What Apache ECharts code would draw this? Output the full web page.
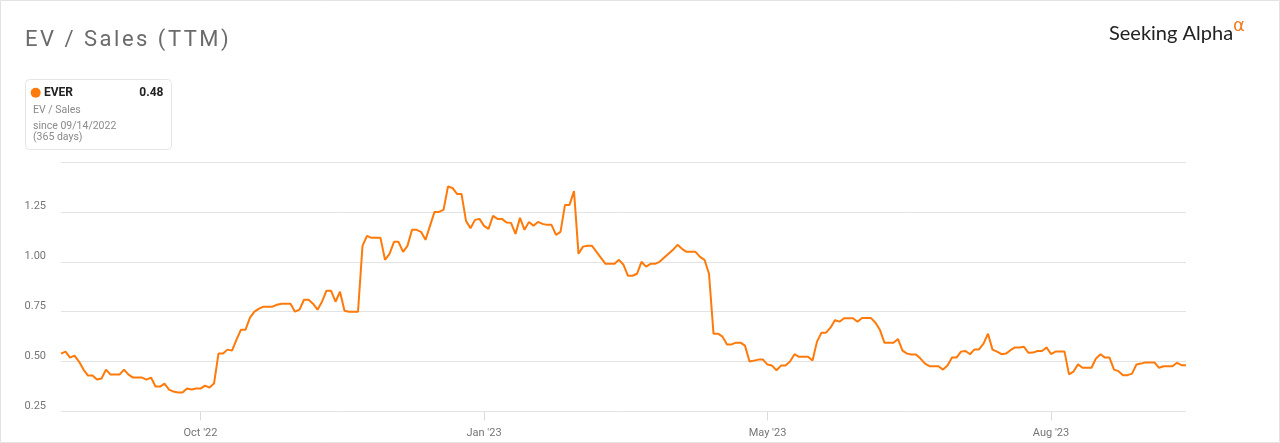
<!DOCTYPE html>
<html>
<head>
<meta charset="UTF-8">
<title>EV / Sales (TTM)</title>
<script src="https://cdn.jsdelivr.net/npm/echarts@6/dist/echarts.min.js"></script>
<style>
    html, body { margin: 0; padding: 0; background: #fff; }
    #wrap { position: relative; width: 1280px; height: 443px; }
    #chart { width: 1280px; height: 443px; }
    #title {
        position: absolute; left: 25px; top: 28px;
        font: 400 22px/22px Roboto, sans-serif;
        letter-spacing: 2.5px; color: #6b6b6b;
    }
</style>
</head>
<body>
<div id="wrap">
    <div id="chart"></div>
    <div id="title">EV / Sales (TTM)</div>
</div>
<script>
// EV / Sales for EVER, one value per trading day since 09/14/2022
var evSales = [
    0.54, 0.55, 0.52, 0.53, 0.50, 0.46, 0.43, 0.43, 0.41, 0.415,
    0.46, 0.435, 0.435, 0.435, 0.46, 0.435, 0.42, 0.42, 0.42, 0.41,
    0.42, 0.375, 0.375, 0.39, 0.36, 0.35, 0.345, 0.345, 0.365, 0.36,
    0.365, 0.365, 0.38, 0.37, 0.39, 0.54, 0.54, 0.56, 0.555, 0.61,
    0.66, 0.66, 0.72, 0.75, 0.765, 0.775, 0.775, 0.775, 0.785, 0.79,
    0.79, 0.79, 0.75, 0.76, 0.81, 0.81, 0.79, 0.76, 0.80, 0.855,
    0.855, 0.80, 0.85, 0.755, 0.75, 0.75, 0.75, 1.08, 1.13, 1.12,
    1.12, 1.12, 1.01, 1.04, 1.10, 1.10, 1.05, 1.08, 1.16, 1.16,
    1.15, 1.11, 1.18, 1.25, 1.25, 1.26, 1.377, 1.37, 1.34, 1.34,
    1.205, 1.168, 1.21, 1.215, 1.18, 1.165, 1.23, 1.215, 1.215, 1.197,
    1.195, 1.14, 1.22, 1.16, 1.20, 1.18, 1.20, 1.19, 1.185, 1.185,
    1.135, 1.15, 1.285, 1.285, 1.354, 1.04, 1.076, 1.08, 1.08, 1.05,
    1.02, 0.99, 0.99, 0.99, 1.01, 0.985, 0.93, 0.93, 0.94, 1.00,
    0.976, 0.99, 0.99, 1.00, 1.02, 1.04, 1.06, 1.085, 1.065, 1.05,
    1.05, 1.05, 1.025, 1.01, 0.94, 0.64, 0.64, 0.625, 0.586, 0.586,
    0.595, 0.595, 0.58, 0.50, 0.505, 0.51, 0.51, 0.485, 0.48, 0.457,
    0.48, 0.48, 0.50, 0.537, 0.524, 0.524, 0.524, 0.505, 0.60, 0.645,
    0.645, 0.67, 0.708, 0.70, 0.717, 0.717, 0.717, 0.70, 0.718, 0.718,
    0.718, 0.695, 0.658, 0.594, 0.594, 0.594, 0.613, 0.555, 0.54, 0.536,
    0.536, 0.515, 0.49, 0.477, 0.477, 0.477, 0.46, 0.48, 0.52, 0.52,
    0.55, 0.553, 0.537, 0.561, 0.561, 0.59, 0.64, 0.56, 0.55, 0.537,
    0.54, 0.557, 0.571, 0.571, 0.574, 0.544, 0.545, 0.553, 0.553, 0.571,
    0.538, 0.55, 0.55, 0.55, 0.436, 0.45, 0.486, 0.469, 0.469, 0.469,
    0.516, 0.537, 0.52, 0.52, 0.46, 0.452, 0.432, 0.432, 0.44, 0.486,
    0.49, 0.496, 0.496, 0.496, 0.469, 0.477, 0.477, 0.477, 0.494, 0.482,
    0.482
];

// x-axis ticks sit on these trading-day positions
var tickIdx = [31, 94, 157, 220];
var tickLabels = ["Oct '22", "Jan '23", "May '23", "Aug '23"];

var ticker = 'EVER';
var legendLines = ['EV / Sales', 'since 09/14/2022', '(365 days)'];

var orange = '#ff7a0a';
var days = evSales.map(function (v, i) { return i; });

var chart = echarts.init(document.getElementById('chart'));

function isTick(index) {
    return tickIdx.indexOf(index) >= 0;
}

var option = {
    backgroundColor: '#fff',
    animation: false,
    textStyle: { fontFamily: 'Roboto' },
    grid: { left: 61, right: 94, top: 162, bottom: 31.5 },
    xAxis: {
        type: 'category',
        data: days,
        boundaryGap: false,
        axisLine: { show: false },
        axisTick: {
            show: true,
            interval: function (index) { return isTick(index); },
            length: 9,
            lineStyle: { color: '#dcdcdc' }
        },
        axisLabel: {
            interval: function (index) { return isTick(index); },
            formatter: function (val) {
                return tickLabels[tickIdx.indexOf(Number(val))] || '';
            },
            color: '#757575',
            fontSize: 11,
            margin: 16
        },
        splitLine: { show: false }
    },
    yAxis: {
        type: 'value',
        min: 0.25,
        max: 1.5,
        interval: 0.25,
        axisLine: { show: false },
        axisTick: { show: false },
        axisLabel: {
            formatter: function (v) { return v >= 1.5 ? '' : v.toFixed(2); },
            color: '#757575',
            fontSize: 11,
            margin: 15,
            verticalAlign: 'bottom'
        },
        splitLine: { lineStyle: { color: '#e3e3e3', width: 1 } }
    },
    series: [{
        name: ticker,
        type: 'line',
        data: evSales,
        symbol: 'none',
        lineStyle: { color: orange, width: 2 },
        itemStyle: { color: orange }
    }],
    graphic: [
        // outer frame
        {
            type: 'rect', silent: true,
            shape: { x: 0.5, y: 0.5, width: 1279, height: 442 },
            style: { fill: 'none', stroke: '#e3e3e3', lineWidth: 1 }
        },
        // logo
        {
            type: 'text', left: 1109, top: 24,
            style: { text: 'Seeking Alpha', font: '400 20px Lato', fill: '#222' }
        },
        {
            type: 'text', left: 1233, top: 17,
            style: { text: 'α', font: '400 18px "DejaVu Sans"', fill: '#f47b20' }
        },
        // value box
        {
            type: 'rect', silent: true,
            shape: { x: 25.5, y: 79.5, width: 146, height: 70, r: 4 },
            style: { fill: '#fff', stroke: '#e6e6e6', lineWidth: 1 }
        },
        {
            type: 'circle',
            shape: { cx: 35.7, cy: 92.7, r: 5 },
            style: { fill: orange }
        },
        {
            type: 'text', x: 44, y: 92.7,
            style: { text: ticker, font: 'bold 12px Roboto', fill: '#222', verticalAlign: 'middle' }
        },
        {
            type: 'text', x: 163.5, y: 92.7,
            style: {
                text: evSales[evSales.length - 1].toFixed(2),
                font: 'bold 12px Roboto', fill: '#222',
                align: 'right', verticalAlign: 'middle'
            }
        },
        {
            type: 'text', x: 33, y: 110,
            style: { text: legendLines[0], font: '10.5px Roboto', fill: '#8a8a8a', verticalAlign: 'middle' }
        },
        {
            type: 'text', x: 33, y: 126,
            style: { text: legendLines[1], font: '10.5px Roboto', fill: '#8a8a8a', verticalAlign: 'middle' }
        },
        {
            type: 'text', x: 33, y: 137.5,
            style: { text: legendLines[2], font: '10.5px Roboto', fill: '#8a8a8a', verticalAlign: 'middle' }
        }
    ]
};

chart.setOption(option);
</script>
</body>
</html>
